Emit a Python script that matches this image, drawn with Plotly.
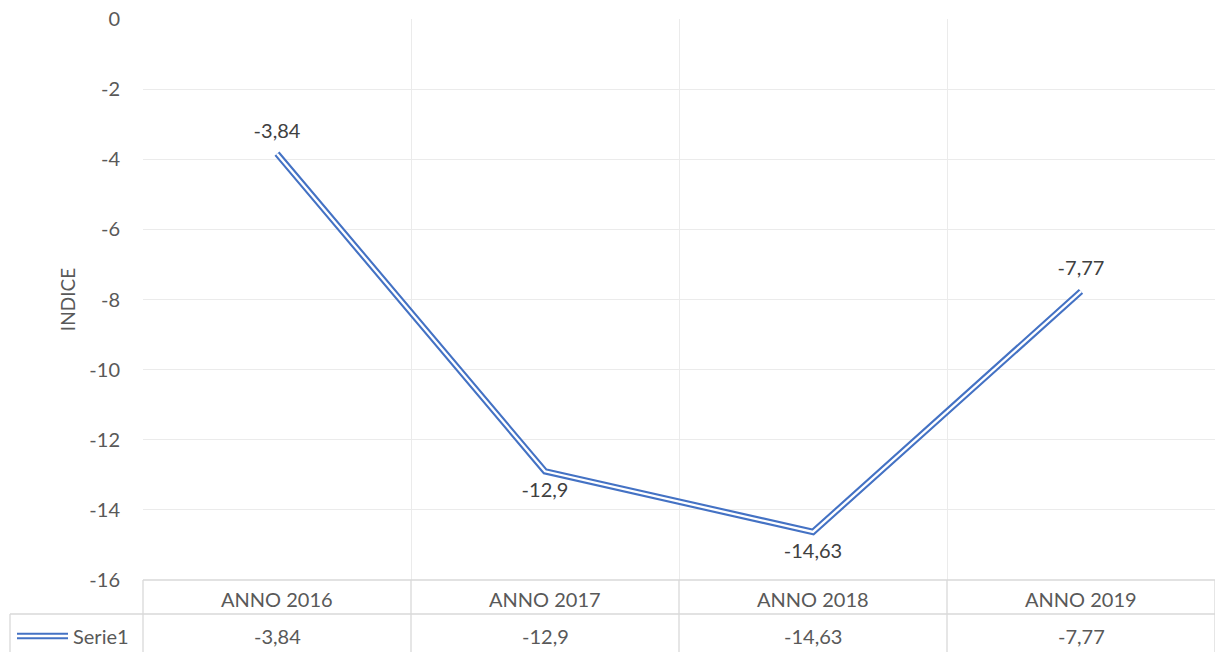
import plotly.graph_objects as go

categories = ["ANNO 2016", "ANNO 2017", "ANNO 2018", "ANNO 2019"]
values = [-3.84, -12.9, -14.63, -7.77]
labels = ["-3,84", "-12,9", "-14,63", "-7,77"]
series_name = "Serie1"
label_pos = ["top center", "bottom center", "bottom center", "top center"]
y_tickvals = [0, -2, -4, -6, -8, -10, -12, -14, -16]
y_ticktext = ["0", "-2", "-4", "-6", "-8", "-10", "-12", "-14", "-16"]

BLUE = "#4472C4"
TXT = "#595959"
GRID = "#d9d9d9"
FONT = "Lato, Noto Sans, sans-serif"
FS = 20

fig = go.Figure()
fig.add_trace(go.Scatter(x=categories, y=values, mode="lines",
                         line=dict(color=BLUE, width=6.5), hoverinfo="skip",
                         showlegend=False, cliponaxis=False))
fig.add_trace(go.Scatter(x=categories, y=values, mode="lines",
                         line=dict(color="white", width=2.3), hoverinfo="skip",
                         showlegend=False, cliponaxis=False))
fig.add_trace(go.Scatter(x=categories, y=values, mode="markers+text",
                         marker=dict(size=16, color="rgba(0,0,0,0)"),
                         text=labels, textposition=label_pos,
                         textfont=dict(size=FS, color="#404040", family=FONT),
                         showlegend=False, cliponaxis=False))

W, H = 1215, 652
ml, mr, mt, mb = 143, 0, 19, 72
pw, ph = W - ml - mr, H - mt - mb

def py(pix):
    return (H - mb - pix) / ph

def px(pix):
    return (pix - ml) / pw

shapes = []
line = dict(color=GRID, width=1.3)
shapes.append(dict(type="line", xref="paper", yref="paper", x0=px(10), x1=1,
                   y0=py(614), y1=py(614), line=line))
shapes.append(dict(type="line", xref="paper", yref="paper", x0=0, x1=1,
                   y0=0, y1=0, line=line))
shapes.append(dict(type="line", xref="paper", yref="paper", x0=px(10), x1=px(10),
                   y0=py(614), y1=py(652), line=line))
for i in range(len(categories) + 1):
    xb = i / len(categories)
    shapes.append(dict(type="line", xref="paper", yref="paper", x0=xb, x1=xb,
                       y0=0, y1=py(652), line=line))
shapes.append(dict(type="line", xref="paper", yref="paper", x0=px(17), x1=px(68),
                   y0=py(636), y1=py(636), line=dict(color=BLUE, width=6.5)))
shapes.append(dict(type="line", xref="paper", yref="paper", x0=px(17), x1=px(68),
                   y0=py(636), y1=py(636), line=dict(color="white", width=2.3)))

annotations = []
for c, l in zip(categories, labels):
    annotations.append(dict(x=c, y=py(599), xref="x", yref="paper", text=c,
                            xanchor="center", yanchor="middle",
                            showarrow=False, font=dict(size=FS, color=TXT, family=FONT)))
    annotations.append(dict(x=c, y=py(636), xref="x", yref="paper", text=l,
                            xanchor="center", yanchor="middle",
                            showarrow=False, font=dict(size=FS, color=TXT, family=FONT)))
annotations.append(dict(x=px(71), y=py(636), xref="paper", yref="paper", text=series_name,
                        xanchor="left", yanchor="middle", showarrow=False,
                        font=dict(size=FS, color=TXT, family=FONT)))

fig.update_layout(
    width=W, height=H,
    margin=dict(l=ml, r=mr, t=mt, b=mb),
    plot_bgcolor="white", paper_bgcolor="white",
    font=dict(family=FONT, color=TXT, size=FS),
    shapes=shapes, annotations=annotations,
    xaxis=dict(type="category", range=[-0.5, 3.5], showticklabels=False,
               showgrid=True, gridcolor="#ebebeb", gridwidth=1.3, tickson="boundaries",
               ticks="", zeroline=False, showline=False),
    yaxis=dict(range=[-16, 0], tickvals=y_tickvals, ticktext=y_ticktext,
               showgrid=True, gridcolor="#ebebeb",
               gridwidth=1.3, zeroline=False, showline=False,
               tickfont=dict(size=FS, color=TXT, family=FONT),
               ticklabelstandoff=22,
               title=dict(text="INDICE", font=dict(size=FS - 1, color=TXT, family=FONT),
                          standoff=8)),
)

fig.write_html("out.html", config={"displayModeBar": False},
               post_script="document.body.style.margin='0';document.body.style.overflow='hidden';")
